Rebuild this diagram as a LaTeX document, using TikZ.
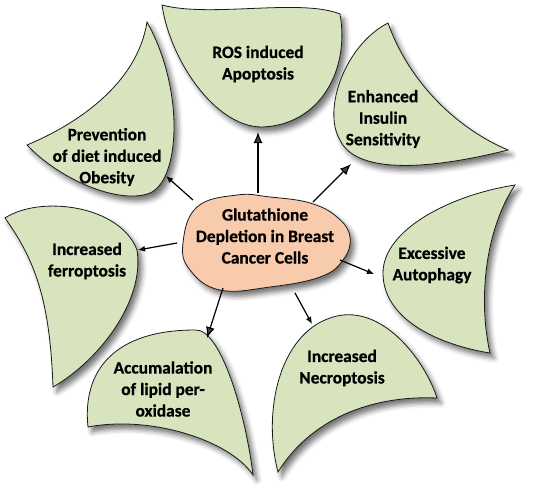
\documentclass[tikz,border=0pt]{standalone}
\usepackage{fontspec}
\setmainfont{Carlito}[BoldFeatures={FakeBold=0.6}]
\usetikzlibrary{arrows.meta, shadows.blur}
\definecolor{leafgreen}{HTML}{D7E4BD}
\definecolor{blobpeach}{HTML}{F8CBAD}
\definecolor{inkline}{HTML}{1A1A1A}

\tikzset{
  leaf/.style={draw=inkline, fill=leafgreen, line width=0.8pt,
    blur shadow={shadow xshift=4pt, shadow yshift=-5pt,
      shadow blur radius=5pt, shadow opacity=55}},
  blob/.style={leaf, fill=blobpeach},
  tag/.style={font=\fontsize{17.4}{21.5}\selectfont\bfseries, align=center,
    text=black, inner sep=0pt},
  bighead/.style={-{Latex[length=11pt,width=9pt]}, line width=1.2pt},
  smallhead/.style={-{Latex[length=7pt,width=6pt]}, line width=1.2pt}
}

\begin{document}
\begin{tikzpicture}[x=1pt, y=-1pt]
  \useasboundingbox (0,0) rectangle (533,491);

  % leaves
  \draw[leaf] (162,5) .. controls (210,18) and (300,-2) .. (340,14)
    .. controls (350,70) and (320,125) .. (262,127)
    .. controls (215,127) and (170,60) .. cycle;
  \draw[leaf] (388,23) .. controls (345,45) and (322,110) .. (340,140)
    .. controls (355,172) and (420,172) .. (508,150)
    .. controls (460,130) and (410,85) .. cycle;
  \draw[leaf] (515,185) .. controls (450,195) and (383,230) .. (383,273)
    .. controls (383,320) and (440,345) .. (490,353)
    .. controls (478,300) and (485,230) .. cycle;
  \draw[leaf] (278,472) .. controls (262,410) and (280,335) .. (330,318)
    .. controls (380,300) and (425,360) .. (437,398)
    .. controls (370,395) and (310,420) .. cycle;
  \draw[leaf] (88,427) .. controls (82,370) and (115,330) .. (195,330)
    .. controls (220,328) and (245,410) .. (253,475)
    .. controls (230,440) and (150,415) .. cycle;
  \draw[leaf] (5,218) .. controls (40,195) and (120,205) .. (137,250)
    .. controls (145,300) and (100,360) .. (53,387)
    .. controls (50,300) and (35,260) .. cycle;
  \draw[leaf] (147,22) .. controls (185,90) and (180,180) .. (150,193)
    .. controls (120,205) and (60,180) .. (27,145)
    .. controls (75,125) and (137,85) .. cycle;

  % centre
  \draw[blob] plot[smooth cycle, tension=0.7] coordinates {(197,207) (237,195)
    (270,197) (310,203) (337,217) (350,237) (343,260) (320,277) (270,287)
    (220,290) (190,270) (183,243)};
  \node[tag] (core) at (265,236) {Glutathione\\Depletion in Breast\\Cancer Cells};

  \foreach \n/\x/\y/\txt in {ros/258/64/{ROS induced\\Apoptosis},
      insulin/383/119/{Enhanced\\Insulin\\Sensitivity},
      autophagy/432/265/{Excessive\\Autophagy},
      necro/342/368/{Increased\\Necroptosis},
      lipid/163/389/{Accumalation\\of lipid per-\\oxidase},
      ferro/87/261/{Increased\\ferroptosis},
      obesity/107/157/{Prevention\\of diet induced\\Obesity}}{%
    \node[tag] (\n) at (\x,\y) {\txt};}

  \foreach \n/\sx/\sy/\ex/\ey/\head in {ros/258/193/258/132/bighead,
      insulin/313/202/351/164/bighead, autophagy/340/260/374/274/smallhead,
      necro/295/293/312/324/smallhead, lipid/223/288/207/338/bighead,
      ferro/177/243/138/250/smallhead, obesity/193/200/166/176/smallhead}{%
    \coordinate (\n-from) at (\sx,\sy);
    \coordinate (\n-to) at (\ex,\ey);
    \draw[\head] (\n-from) -- (\n-to);}
\end{tikzpicture}
\end{document}
